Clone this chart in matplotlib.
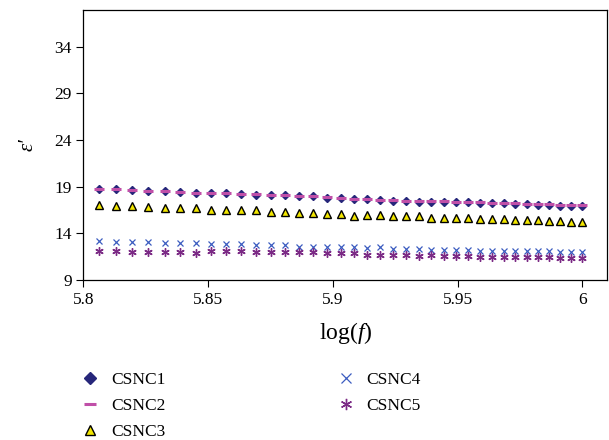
#!/usr/bin/env python3
# Real part of permittivity vs log frequency for the CSNC samples
import numpy as np
import matplotlib.pyplot as plt

plt.rcParams["font.family"] = ["Liberation Serif", "DejaVu Serif"]
plt.rcParams["mathtext.fontset"] = "custom"
plt.rcParams["mathtext.it"] = "Liberation Serif:italic"
plt.rcParams["mathtext.rm"] = "Liberation Serif"

# frequency in kHz
freq_khz = [640, 650, 660, 670, 680, 690, 700, 710, 720, 730, 740, 750, 760,
            770, 780, 790, 800, 810, 820, 830, 840, 850, 860, 870, 880, 890,
            900, 910, 920, 930, 940, 950, 960, 970, 980, 990, 1000]

csnc1 = [18.75, 18.75, 18.65, 18.54, 18.54, 18.43, 18.29, 18.29, 18.29, 18.18,
         18.14, 18.04, 18.04, 17.93, 17.93, 17.82, 17.76, 17.65, 17.65, 17.57,
         17.50, 17.47, 17.39, 17.39, 17.36, 17.29, 17.29, 17.25, 17.20, 17.20,
         17.12, 17.08, 17.04, 17.05, 16.96, 16.93, 16.90]
csnc2 = [18.72, 18.73, 18.63, 18.53, 18.55, 18.44, 18.31, 18.30, 18.31, 18.20,
         18.16, 18.06, 18.06, 17.95, 17.95, 17.84, 17.78, 17.68, 17.67, 17.60,
         17.53, 17.50, 17.43, 17.42, 17.40, 17.33, 17.33, 17.30, 17.26, 17.26,
         17.20, 17.16, 17.12, 17.12, 17.05, 17.02, 16.98]
csnc3 = [17.07, 16.96, 16.96, 16.79, 16.68, 16.68, 16.68, 16.50, 16.50, 16.43,
         16.43, 16.32, 16.32, 16.18, 16.18, 16.07, 16.07, 15.89, 16.00, 15.93,
         15.79, 15.79, 15.79, 15.61, 15.61, 15.61, 15.61, 15.54, 15.54, 15.50,
         15.40, 15.40, 15.40, 15.32, 15.32, 15.25, 15.25]
csnc4 = [13.18, 13.07, 13.07, 13.07, 13.00, 13.00, 13.00, 12.86, 12.86, 12.86,
         12.72, 12.72, 12.72, 12.57, 12.57, 12.50, 12.50, 12.50, 12.46, 12.50,
         12.32, 12.32, 12.32, 12.25, 12.22, 12.22, 12.22, 12.14, 12.14, 12.11,
         12.07, 12.07, 12.07, 12.04, 11.97, 11.97, 11.97]
csnc5 = [12.10, 12.10, 12.00, 12.00, 12.00, 12.00, 11.86, 12.10, 12.10, 12.10,
         12.00, 12.00, 12.00, 12.00, 11.97, 11.86, 11.86, 11.86, 11.68, 11.68,
         11.68, 11.64, 11.57, 11.64, 11.57, 11.57, 11.57, 11.50, 11.43, 11.43,
         11.43, 11.43, 11.43, 11.43, 11.29, 11.36, 11.36]

labels = ["CSNC1", "CSNC2", "CSNC3", "CSNC4", "CSNC5"]

logf = np.log10(np.array(freq_khz) * 1000.0)

fig = plt.figure(figsize=(6.09, 4.40), dpi=100)
ax = fig.add_axes([0.137, 0.364, 0.860, 0.613])

ax.plot(logf, csnc1, ls="none", marker="D", ms=4.2, color="#26267a", label=labels[0])
ax.plot(logf, csnc2, ls="none", marker="_", ms=6.5, mew=2.2, color="#c04fa8", label=labels[1])
ax.plot(logf, csnc3, ls="none", marker="^", ms=5.5, mfc="#f2e600", mec="black",
        mew=1.0, label=labels[2])
ax.plot(logf, csnc4, ls="none", marker="x", ms=5, mew=0.9, color="#3b5cc0", label=labels[3])
ax.plot(logf, csnc5, ls="none", marker=(6, 2, 0), ms=6, mew=1.0, color="#7b2a85",
        label=labels[4])

ax.set_xlim(5.8, 6.01)
ax.set_ylim(9, 37.9)
ax.set_xticks([5.8, 5.85, 5.9, 5.95, 6.0])
ax.set_xticklabels(["5.8", "5.85", "5.9", "5.95", "6"])
ax.set_yticks([9, 14, 19, 24, 29, 34])
ax.tick_params(direction="out", length=5, width=0.8, labelsize=12.5)
for s in ax.spines.values():
    s.set_linewidth(0.9)

ax.set_xlabel(r"log($f$)", fontsize=17, labelpad=9)
ax.set_ylabel("ε′", fontsize=15, fontstyle="italic", labelpad=12)

fig.legend(loc="upper left", bbox_to_anchor=(0.105, 0.19), ncol=2, frameon=False,
           fontsize=12.5, handletextpad=0.6, columnspacing=9.8, labelspacing=0.55,
           handlelength=1.2, markerscale=1.35)

fig.savefig("out.png", dpi=100)
